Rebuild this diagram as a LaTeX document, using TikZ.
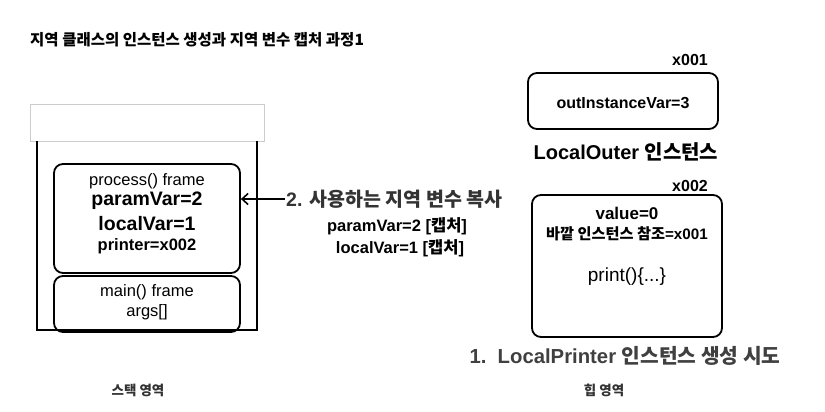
\documentclass[tikz,border=0pt]{standalone}
\usepackage{fontspec}
\setmainfont{Liberation Sans}
\newfontfamily\kr{Noto Sans CJK KR}
\usetikzlibrary{arrows.meta}
\newcommand\fsz[1]{\fontsize{#1}{#1}\selectfont}
\tikzset{
  rbox/.style={draw, line width=1.8pt, rounded corners=9pt, inner sep=0pt},
  txt/.style={inner sep=0pt, anchor=center},
}
\begin{document}
\begin{tikzpicture}[x=1pt,y=-1pt]
\useasboundingbox (0,0) rectangle (825,412);
% title
\node[txt, anchor=west, font=\bfseries\fsz{15.5}\kr] (title) at (30,40) {지역 클래스의 인스턴스 생성과 지역 변수 캡처 과정1};
% stack
\node[draw=black!20, line width=0.8pt, minimum width=234, minimum height=37, inner sep=0pt] (stacktop) at (147,122.5) {};
\coordinate (sl) at (37,141);
\coordinate (sr) at (257,141);
\draw[line width=1.8pt] (sl) -- (37,330) -- (257,330) -- (sr);
\node[rbox, minimum width=186, minimum height=109] (proc) at (147,218.5) {};
\node[rbox, minimum width=186, minimum height=56] (mainf) at (147,304) {};
\node[txt, font=\fsz{16.5}] (p1) at (147,181) {process() frame};
\node[txt, font=\bfseries\fsz{19.5}] (p2) at (147,201) {paramVar=2};
\node[txt, font=\bfseries\fsz{19.5}] (p3) at (147,224) {localVar=1};
\node[txt, font=\bfseries\fsz{16.5}] (p4) at (147,246) {printer=x002};
\node[txt, font=\fsz{16.5}] (m1) at (147,292) {main() frame};
\node[txt, font=\fsz{16.5}] (m2) at (147,312) {args[]};
% copy arrow
\node[txt, anchor=west, font=\bfseries\fsz{19.5}, text=black!80] (t2) at (286,199) {2. {\kr 사용하는 지역 변수 복사}};
\coordinate (t2w) at ([xshift=-1pt]t2.west);
\draw[line width=1.6pt, -{Straight Barb[length=6pt,width=11pt]}] (t2w) -- (t2w -| proc.east);
\node[txt, font=\bfseries\fsz{16.5}] (c1) at (397,226) {paramVar=2 [{\kr 캡처}]};
\node[txt, font=\bfseries\fsz{16.5}] (c2) at (400,248) {localVar=1 [{\kr 캡처}]};
% heap
\node[txt, font=\bfseries\fsz{16}] (x1) at (690,60) {x001};
\node[rbox, minimum width=190, minimum height=56] (outer) at (623,101) {};
\node[txt, font=\bfseries\fsz{16}] (ov) at (623,103) {outInstanceVar=3};
\node[txt, font=\bfseries\fsz{20}] (ol) at (626,152) {LocalOuter {\kr 인스턴스}};
\node[txt, font=\bfseries\fsz{16}] (x2) at (690,186) {x002};
\node[rbox, minimum width=190, minimum height=142] (printer) at (627,266) {};
\node[txt, font=\bfseries\fsz{17}] (v0) at (627,213) {value=0};
\node[txt, font=\bfseries\fsz{15.2}] (ref) at (627,234) {{\kr 바깥 인스턴스 참조}=x001};
\node[txt, font=\fsz{19}] (pr) at (627,277) {print()\{...\}};
\node[txt, font=\bfseries\fsz{20.3}, text=black!75] (s1) at (625,356) {1.\ \ LocalPrinter {\kr 인스턴스 생성 시도}};
% area labels
\node[txt, font=\bfseries\fsz{13.5}\kr, text=black!80] (stk) at (138,390) {스택 영역};
\node[txt, font=\bfseries\fsz{13.5}\kr, text=black!80] (hp) at (604,390) {힙 영역};
\end{tikzpicture}
\end{document}
